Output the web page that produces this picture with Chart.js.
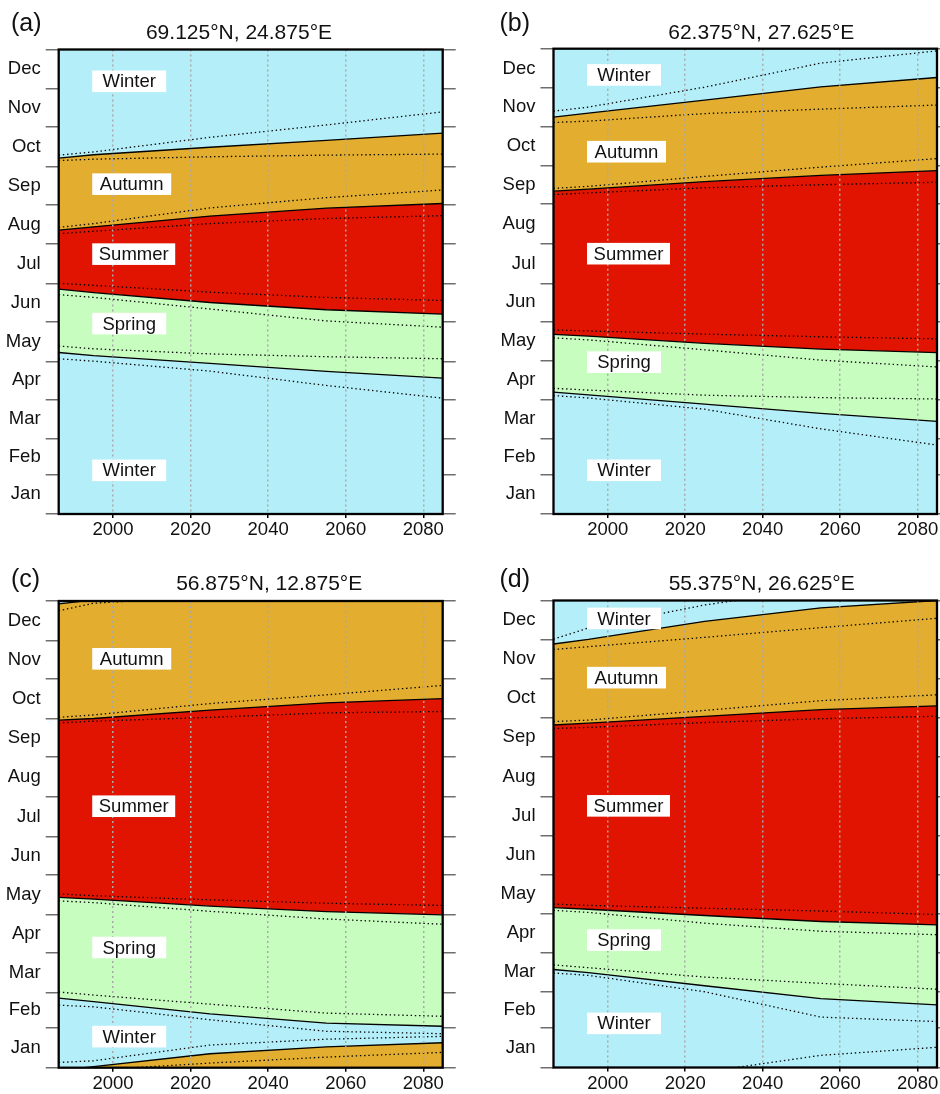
<!DOCTYPE html>
<html>
<head>
<meta charset="utf-8">
<script src="https://cdn.jsdelivr.net/npm/chart.js@4.4.1/dist/chart.umd.min.js"></script>
<style>
  body { margin: 0; background: #fff; }
  #fig { position: relative; width: 940px; height: 1094px; overflow: hidden;
         font-family: "Liberation Sans", Arial, Helvetica, sans-serif; color: #111; }
  #fig canvas { position: absolute; }
  .tag { position: absolute; font-size: 25px; line-height: 1; white-space: nowrap; }
  .ttl { position: absolute; font-size: 21px; line-height: 1; white-space: nowrap; transform: translateX(-50%); }
</style>
</head>
<body>
<div id="fig"></div>
<script>
// shared axes
const YEARS = [1986, 1995, 2025, 2055, 2085];
const YEAR_TICKS = [2000, 2020, 2040, 2060, 2080];
const MONTH_EDGES = [0, 31, 59, 90, 120, 151, 181, 212, 243, 273, 304, 334, 365];
const MONTH_MIDS = [15.5, 45, 74.5, 105, 135.5, 166, 196.5, 227.5, 258, 288.5, 319, 349.5];
const MONTH_NAMES = ['Jan', 'Feb', 'Mar', 'Apr', 'May', 'Jun', 'Jul', 'Aug', 'Sep', 'Oct', 'Nov', 'Dec'];

// season onsets (day of year), mean and lower/upper range
// (a) 69.125N 24.875E
const A_SPRING    = [126.9, 124.4, 118.3, 112.1, 106.7];
const A_SPRING_LO = [122.0, 120.1, 112.3, 101.0, 91.0];
const A_SPRING_HI = [132.0, 129.8, 125.8, 123.6, 122.0];
const A_SUMMER    = [176.7, 174.0, 166.2, 160.5, 157.0];
const A_SUMMER_LO = [172.4, 170.2, 161.1, 151.7, 146.8];
const A_SUMMER_HI = [181.3, 179.7, 174.3, 170.2, 167.8];
const A_AUTUMN    = [223.0, 225.7, 234.1, 240.3, 244.0];
const A_AUTUMN_LO = [220.3, 222.2, 228.2, 232.2, 234.4];
const A_AUTUMN_HI = [225.2, 228.2, 240.5, 248.6, 254.6];
const A_WINTER    = [279.6, 282.3, 288.2, 293.6, 299.3];
const A_WINTER_LO = [277.7, 278.8, 280.7, 282.0, 282.8];
const A_WINTER_HI = [282.0, 284.5, 296.0, 305.7, 316.0];

// (b) 62.375N 27.625E
const B_SPRING    = [95.6, 93.5, 86.2, 78.9, 72.7];
const B_SPRING_LO = [92.9, 91.0, 82.2, 66.8, 54.1];
const B_SPRING_HI = [98.6, 97.2, 93.2, 91.3, 90.2];
const B_SUMMER    = [140.9, 139.5, 133.9, 129.3, 126.6];
const B_SUMMER_LO = [138.2, 136.6, 128.8, 120.7, 115.3];
const B_SUMMER_HI = [144.4, 143.6, 141.1, 139.0, 137.4];
const B_AUTUMN    = [253.2, 254.8, 260.7, 265.6, 269.4];
const B_AUTUMN_LO = [250.5, 251.9, 255.9, 258.3, 260.2];
const B_AUTUMN_HI = [255.4, 257.0, 264.8, 272.1, 278.8];
const B_WINTER    = [311.4, 314.4, 324.6, 335.1, 342.4];
const B_WINTER_LO = [307.1, 308.2, 314.1, 317.6, 320.8];
const B_WINTER_HI = [316.0, 319.2, 334.8, 353.7, 363.3];

// (c) 56.875N 12.875E  (winter onset runs past 365 -> next year)
const C_SPRING    = [54.4, 51.6, 42.1, 34.8, 32.4];
const C_SPRING_LO = [48.9, 47.6, 37.5, 28.5, 26.6];
const C_SPRING_HI = [59.2, 56.8, 49.7, 42.7, 40.2];
const C_SUMMER    = [133.2, 131.8, 126.4, 122.0, 119.6];
const C_SUMMER_LO = [130.5, 129.1, 122.3, 116.3, 112.2];
const C_SUMMER_HI = [135.9, 134.5, 131.3, 128.6, 126.9];
const C_AUTUMN    = [271.8, 273.1, 279.7, 285.4, 288.6];
const C_AUTUMN_LO = [269.6, 271.0, 274.0, 277.5, 278.6];
const C_AUTUMN_HI = [274.0, 275.9, 284.8, 291.6, 299.0];
const C_WINTER    = [362.8, 365.8, 375.9, 381.3, 384.5];
const C_WINTER_LO = [357.4, 363.2, 368.6, 373.3, 377.0];
const C_WINTER_HI = [369.1, 370.4, 382.7, 387.3, 389.5];

// (d) 55.375N 26.625E
const D_SPRING    = [76.6, 74.2, 63.9, 53.8, 48.9];
const D_SPRING_LO = [73.9, 72.0, 59.2, 39.4, 35.9];
const D_SPRING_HI = [80.2, 78.0, 70.7, 65.8, 61.2];
const D_SUMMER    = [125.0, 123.7, 118.8, 114.1, 111.4];
const D_SUMMER_LO = [122.8, 121.2, 112.8, 106.5, 103.8];
const D_SUMMER_HI = [127.7, 126.7, 124.5, 122.3, 119.6];
const D_AUTUMN    = [267.7, 269.1, 274.5, 279.7, 282.7];
const D_AUTUMN_LO = [265.0, 265.8, 269.6, 272.6, 274.5];
const D_AUTUMN_HI = [270.4, 271.5, 279.1, 286.7, 291.3];
const D_WINTER    = [331.0, 334.6, 348.7, 359.3, 365.0];
const D_WINTER_LO = [326.7, 328.9, 336.2, 343.8, 351.1];
const D_WINTER_HI = [334.8, 343.5, 361.5, 374.5, 380.8];

const COLORS = { winter: '#b4eef8', spring: '#c8fdc0', summer: '#e01400', autumn: '#e3ae2f' };
const FONT = '"Liberation Sans", Arial, Helvetica, sans-serif';
const BOX_W = { Winter: 74, Autumn: 79, Summer: 83, Spring: 74 };

const PANELS = [
  { tag: '(a)', title: '69.125°N, 24.875°E',
    s: [A_SPRING, A_SPRING_LO, A_SPRING_HI], su: [A_SUMMER, A_SUMMER_LO, A_SUMMER_HI],
    au: [A_AUTUMN, A_AUTUMN_LO, A_AUTUMN_HI], wi: [A_WINTER, A_WINTER_LO, A_WINTER_HI],
    labels: [['Winter', 340], ['Autumn', 259.2], ['Summer', 204.2], ['Spring', 149.6], ['Winter', 34.3]],
    box: { left: 0, top: 0, w: 470, h: 550 }, area: [58.7, 49.5, 442.7, 514], rightW: 14,
    tagPos: [11, 10], titlePos: [239, 21] },
  { tag: '(b)', title: '62.375°N, 27.625°E',
    s: [B_SPRING, B_SPRING_LO, B_SPRING_HI], su: [B_SUMMER, B_SUMMER_LO, B_SUMMER_HI],
    au: [B_AUTUMN, B_AUTUMN_LO, B_AUTUMN_HI], wi: [B_WINTER, B_WINTER_LO, B_WINTER_HI],
    labels: [['Winter', 344.4], ['Autumn', 284.2], ['Summer', 204.2], ['Spring', 119.1], ['Winter', 34.3]],
    box: { left: 470, top: 0, w: 470, h: 550 }, area: [553.5, 48.7, 937, 514], rightW: 3,
    tagPos: [499.5, 10], titlePos: [761.3, 21] },
  { tag: '(c)', title: '56.875°N, 12.875°E',
    s: [C_SPRING, C_SPRING_LO, C_SPRING_HI], su: [C_SUMMER, C_SUMMER_LO, C_SUMMER_HI],
    au: [C_AUTUMN, C_AUTUMN_LO, C_AUTUMN_HI], wi: [C_WINTER, C_WINTER_LO, C_WINTER_HI],
    labels: [['Autumn', 319.8], ['Summer', 204.5], ['Spring', 94], ['Winter', 24.3]],
    box: { left: 0, top: 550, w: 470, h: 544 }, area: [58.7, 601, 442.7, 1067.7], rightW: 14,
    tagPos: [11, 566], titlePos: [269.2, 571.5] },
  { tag: '(d)', title: '55.375°N, 26.625°E',
    s: [D_SPRING, D_SPRING_LO, D_SPRING_HI], su: [D_SUMMER, D_SUMMER_LO, D_SUMMER_HI],
    au: [D_AUTUMN, D_AUTUMN_LO, D_AUTUMN_HI], wi: [D_WINTER, D_WINTER_LO, D_WINTER_HI],
    labels: [['Winter', 351], ['Autumn', 304.7], ['Summer', 204.5], ['Spring', 99.6], ['Winter', 34.5]],
    box: { left: 470, top: 550, w: 470, h: 544 }, area: [553.5, 600.5, 937, 1067.5], rightW: 3,
    tagPos: [499.5, 566], titlePos: [761.7, 571.5] }
];

const LAB_W = 44.7, TICK_W = 14, XAX_H = 26;

const pts = arr => YEARS.map((x, i) => ({ x, y: arr[i] }));
const wrap = arr => arr.map(v => v - 365);

function dotted(arr) {
  return { data: pts(arr), xAxisID: 'x', yAxisID: 'yTick', borderColor: '#000', borderWidth: 1.3,
           borderDash: [1.4, 2.8], pointRadius: 0, fill: false, tension: 0, clip: 0 };
}
function solid(arr, target, color) {
  return { data: pts(arr), xAxisID: 'x', yAxisID: 'yTick', borderColor: '#000', borderWidth: 1.3,
           pointRadius: 0, tension: 0, clip: 0,
           fill: target === null ? false : { target, above: color, below: color } };
}

const plotBack = {
  id: 'plotBack',
  beforeDatasetsDraw(chart) {
    const { ctx, chartArea: a } = chart;
    ctx.save();
    ctx.fillStyle = COLORS.winter;
    ctx.fillRect(a.left, a.top, a.right - a.left, a.bottom - a.top);
    ctx.restore();
  }
};

const seasonLabels = {
  id: 'seasonLabels',
  afterDraw(chart, args, opts) {
    const { ctx, chartArea: a } = chart;
    const y = chart.scales.yTick;
    ctx.save();
    ctx.font = '18.5px ' + FONT;
    ctx.textAlign = 'center';
    ctx.textBaseline = 'middle';
    opts.items.forEach(([text, day]) => {
      const w = BOX_W[text];
      const yc = y.getPixelForValue(day);
      const x0 = a.left + 33.5;
      ctx.fillStyle = '#fff';
      ctx.fillRect(x0, yc - 10.8, w, 21.6);
      ctx.fillStyle = '#111';
      ctx.fillText(text, x0 + w / 2, yc + 1);
    });
    ctx.lineWidth = 2.3;
    ctx.strokeStyle = '#000';
    ctx.strokeRect(a.left, a.top, a.right - a.left, a.bottom - a.top);
    ctx.restore();
  }
};

const fig = document.getElementById('fig');

PANELS.forEach(p => {
  const b = p.box;
  const cv = document.createElement('canvas');
  cv.width = b.w; cv.height = b.h;
  cv.style.left = b.left + 'px'; cv.style.top = b.top + 'px';
  fig.appendChild(cv);

  const tag = document.createElement('div');
  tag.className = 'tag';
  tag.textContent = p.tag;
  tag.style.left = p.tagPos[0] + 'px'; tag.style.top = p.tagPos[1] + 'px';
  fig.appendChild(tag);

  const ttl = document.createElement('div');
  ttl.className = 'ttl';
  ttl.textContent = p.title;
  ttl.style.left = p.titlePos[0] + 'px'; ttl.style.top = p.titlePos[1] + 'px';
  fig.appendChild(ttl);

  const [aL, aT, aR, aB] = p.area;
  const padding = {
    left: aL - b.left - TICK_W - LAB_W,
    top: aT - b.top,
    right: b.left + b.w - aR - p.rightW,
    bottom: b.top + b.h - aB - XAX_H
  };

  const datasets = [
    dotted(p.s[1]), dotted(p.s[2]), dotted(p.su[1]), dotted(p.su[2]),
    dotted(p.au[1]), dotted(p.au[2]), dotted(p.wi[1]), dotted(p.wi[2]),
    dotted(wrap(p.wi[1])), dotted(wrap(p.wi[2])),
    solid(p.s[0], null),                        // 10 spring onset
    solid(p.su[0], 10, COLORS.spring),          // 11 summer onset
    solid(p.au[0], 11, COLORS.summer),          // 12 autumn onset
    solid(p.wi[0], 12, COLORS.autumn),          // 13 winter onset
    solid(wrap(p.wi[0]), 'start', COLORS.autumn) // 14 winter onset, next year
  ];

  const yBase = { type: 'linear', axis: 'y', min: 0, max: 365, border: { display: false } };

  new Chart(cv, {
    type: 'line',
    data: { datasets },
    plugins: [plotBack, seasonLabels],
    options: {
      responsive: false, animation: false, devicePixelRatio: 1,
      layout: { padding },
      plugins: {
        legend: { display: false }, tooltip: { enabled: false },
        seasonLabels: { items: p.labels }
      },
      scales: {
        x: {
          type: 'linear', position: 'bottom', min: 1986, max: 2085,
          afterBuildTicks: ax => { ax.ticks = YEAR_TICKS.map(v => ({ value: v })); },
          afterFit: ax => { ax.height = XAX_H; },
          grid: { z: 1, color: '#a9a9a9', lineWidth: 1.5, tickColor: '#000', tickLength: 4, tickWidth: 1.5 },
          border: { display: false, dash: [2, 3] },
          ticks: { callback: v => String(v), color: '#111', font: { size: 18.5, family: FONT },
                   padding: 1, maxRotation: 0, autoSkip: false }
        },
        yTick: {
          ...yBase, position: 'left', weight: 0,
          afterBuildTicks: ax => { ax.ticks = MONTH_EDGES.map(v => ({ value: v })); },
          afterFit: ax => { ax.width = TICK_W; },
          grid: { drawOnChartArea: false, tickLength: 13, color: '#6e6e6e', lineWidth: 1.5 },
          ticks: { display: false }
        },
        yLab: {
          ...yBase, position: 'left', weight: 1,
          afterBuildTicks: ax => { ax.ticks = MONTH_MIDS.map(v => ({ value: v })); },
          afterFit: ax => { ax.width = LAB_W; },
          grid: { display: false, drawTicks: false },
          ticks: { callback: (v, i) => MONTH_NAMES[i], padding: 4, autoSkip: false,
                   color: '#111', font: { size: 18.5, family: FONT } }
        },
        yRight: {
          ...yBase, position: 'right',
          afterBuildTicks: ax => { ax.ticks = MONTH_EDGES.map(v => ({ value: v })); },
          afterFit: ax => { ax.width = p.rightW; },
          grid: { drawOnChartArea: false, tickLength: 13, color: '#6e6e6e', lineWidth: 1.5 },
          ticks: { display: false }
        }
      }
    }
  });
});
</script>
</body>
</html>
